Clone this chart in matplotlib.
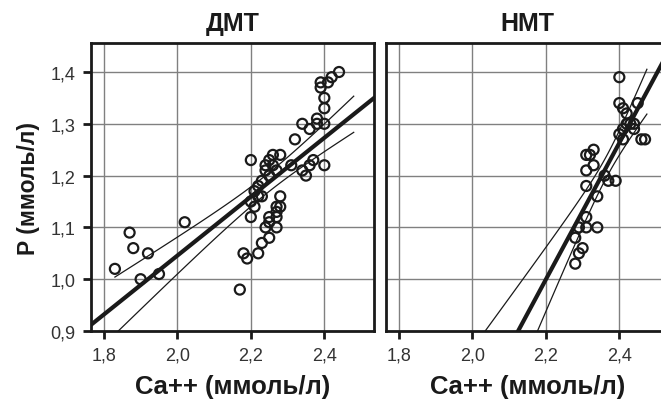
import numpy as np
import matplotlib
matplotlib.use("Agg")
import matplotlib.pyplot as plt

# ── data ─────────────────────────────────────────────────────────────────────
dmt_ca = [1.83, 1.87, 1.88, 1.92, 1.90, 1.95, 2.02, 2.17, 2.18, 2.19,
          2.22, 2.23, 2.25, 2.24, 2.27, 2.25, 2.25, 2.27, 2.27, 2.27,
          2.28, 2.28, 2.20, 2.21, 2.20, 2.21, 2.23, 2.22, 2.23, 2.20,
          2.26, 2.28, 2.24, 2.26, 2.25, 2.24, 2.27, 2.25, 2.22, 2.31,
          2.34, 2.35, 2.36, 2.37, 2.40, 2.32, 2.34, 2.36, 2.38, 2.38,
          2.40, 2.40, 2.40, 2.39, 2.39, 2.41, 2.42, 2.44]
dmt_p = [1.02, 1.09, 1.06, 1.05, 1.00, 1.01, 1.11, 0.98, 1.05, 1.04,
         1.05, 1.07, 1.08, 1.10, 1.10, 1.11, 1.12, 1.12, 1.13, 1.14,
         1.14, 1.16, 1.12, 1.14, 1.15, 1.17, 1.16, 1.16, 1.19, 1.23,
         1.24, 1.24, 1.22, 1.22, 1.23, 1.21, 1.21, 1.20, 1.18, 1.22,
         1.21, 1.20, 1.22, 1.23, 1.22, 1.27, 1.30, 1.29, 1.31, 1.30,
         1.30, 1.33, 1.35, 1.37, 1.38, 1.38, 1.39, 1.40]

nmt_ca = [2.40, 2.40, 2.41, 2.42, 2.45, 2.42, 2.43, 2.44, 2.41, 2.44,
          2.40, 2.41, 2.46, 2.47, 2.31, 2.32, 2.33, 2.33, 2.31, 2.36,
          2.37, 2.39, 2.31, 2.34, 2.31, 2.29, 2.31, 2.34, 2.28, 2.30,
          2.29, 2.28]
nmt_p = [1.39, 1.34, 1.33, 1.32, 1.34, 1.30, 1.30, 1.30, 1.29, 1.29,
         1.28, 1.27, 1.27, 1.27, 1.24, 1.24, 1.25, 1.22, 1.21, 1.20,
         1.19, 1.19, 1.18, 1.16, 1.12, 1.10, 1.10, 1.10, 1.08, 1.06,
         1.05, 1.03]

# x span of the confidence band for each group
dmt_ci_span = [1.83, 2.48]
nmt_ci_span = [2.00, 2.475]

titles = ["ДМТ", "НМТ"]
x_ticks = [1.8, 2.0, 2.2, 2.4]
y_ticks = [0.9, 1.0, 1.1, 1.2, 1.3, 1.4]
x_label = "Ca++ (ммоль/л)"
y_label = "P (ммоль/л)"

plt.rcParams['font.family'] = ['Liberation Sans', 'DejaVu Sans']

INK = "#1a1a1a"
TICK_TXT = "#333333"


def fmt(v):
    return f"{v:.1f}".replace(".", ",")


def fit_with_ci(x, y, xs):
    # ordinary least squares + 95% band for the mean
    x = np.asarray(x)
    y = np.asarray(y)
    n = len(x)
    b, a = np.polyfit(x, y, 1)
    resid = y - (a + b * x)
    s = np.sqrt(np.sum(resid ** 2) / (n - 2))
    sxx = np.sum((x - x.mean()) ** 2)
    half = 2.0 * s * np.sqrt(1.0 / n + (xs - x.mean()) ** 2 / sxx)
    return a, b, half


fig = plt.figure(figsize=(6.61, 4.10), dpi=100)
fig.patch.set_facecolor("white")

ax_w = 0.428
ax_h = 0.7025
ax_l = fig.add_axes([0.1377, 0.1902, ax_w, ax_h])
ax_r = fig.add_axes([0.584, 0.1902, ax_w, ax_h])

groups = [(ax_l, dmt_ca, dmt_p, dmt_ci_span),
          (ax_r, nmt_ca, nmt_p, nmt_ci_span)]

for i, (ax, xs_data, ys_data, span) in enumerate(groups):
    ax.set_xlim(1.765, 2.535)
    ax.set_ylim(0.9, 1.456)

    ax.scatter(xs_data, ys_data, s=52, facecolors="none", edgecolors=INK,
               linewidths=1.6, zorder=4)

    # regression line across the whole axis, confidence band over the data span
    x_full = np.linspace(1.765, 2.535, 50)
    x_band = np.linspace(span[0], span[1], 100)
    a, b, half = fit_with_ci(xs_data, ys_data, x_band)
    ax.plot(x_full, a + b * x_full, color=INK, lw=3.0, zorder=3)
    ax.plot(x_band, a + b * x_band + half, color=INK, lw=0.9, zorder=3)
    ax.plot(x_band, a + b * x_band - half, color=INK, lw=0.9, zorder=3)

    ax.set_xticks(x_ticks)
    ax.set_xticklabels([fmt(v) for v in x_ticks], fontsize=13, color=TICK_TXT)
    ax.set_yticks(y_ticks)
    ax.grid(True, color="#808080", lw=1.0)
    ax.set_axisbelow(True)
    for sp in ax.spines.values():
        sp.set_linewidth(2.0)
        sp.set_color(INK)
    ax.tick_params(axis="both", direction="out", length=6, width=2,
                   color=INK, pad=5)
    ax.set_title(titles[i], fontsize=18, fontweight="bold", pad=9,
                 color=INK)
    ax.set_xlabel(x_label, fontsize=18.5, fontweight="bold", labelpad=8,
                  color=INK)

ax_l.set_yticklabels([fmt(v) for v in y_ticks], fontsize=13, color=TICK_TXT)
ax_l.set_ylabel(y_label, fontsize=16.5, fontweight="bold", labelpad=8,
                color=INK)
ax_r.tick_params(axis="y", left=False, labelleft=False)

fig.savefig("out.png", dpi=100, facecolor="white")
